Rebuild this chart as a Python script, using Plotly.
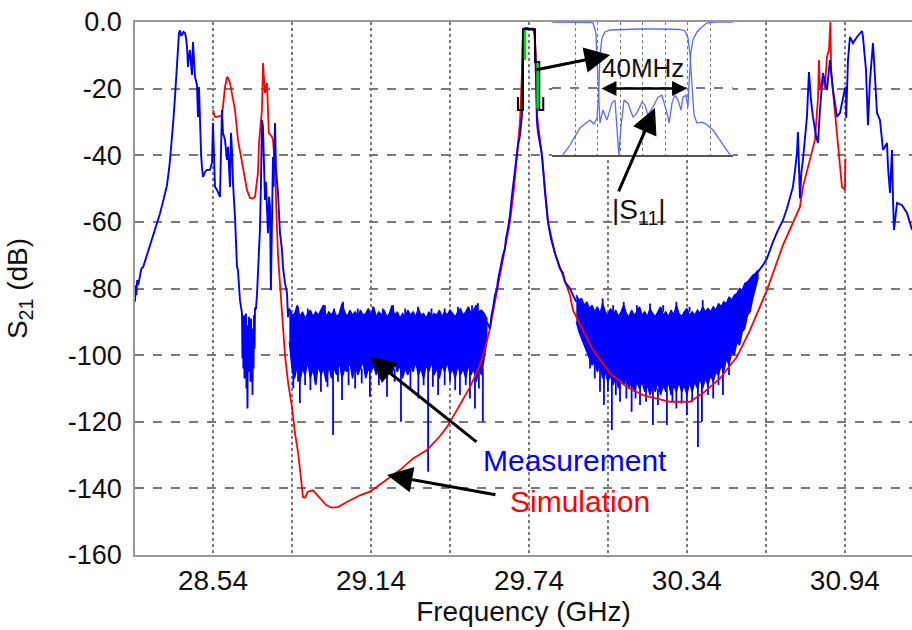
import plotly.graph_objects as go

# ---------------- data (GHz, dB) ----------------
meas_left = [
    (28.2438, -84), (28.2460, -79), (28.2490, -82), (28.2520, -77.5), (28.2560, -79), (28.2627, -76.5),
    (28.2680, -74), (28.2750, -73.5), (28.2893, -70), (28.3000, -67), (28.3121, -64), (28.3250, -61),
    (28.3387, -57.5), (28.3500, -54), (28.3653, -49), (28.3750, -43), (28.3843, -35.4), (28.3900, -29),
    (28.3957, -22.5), (28.4000, -16), (28.4033, -11.4), (28.4070, -6), (28.4109, -3.3), (28.4150, -2.5),
    (28.4190, -4), (28.4223, -3.9), (28.4280, -3), (28.4337, -3.3), (28.4380, -5), (28.4413, -7.5),
    (28.4451, -13.5), (28.4490, -10), (28.4526, -8.4), (28.4560, -12), (28.4602, -15.9), (28.4640, -6),
    (28.4680, -12), (28.4716, -16.5), (28.4792, -18.9), (28.4830, -28.5), (28.4868, -19.5), (28.4906, -33.3),
    (28.4950, -40), (28.4982, -43.5), (28.5020, -46.5), (28.5100, -45), (28.5172, -44.4), (28.5286, -44.4),
    (28.5362, -42.3), (28.5400, -30.3), (28.5430, -40), (28.5476, -49.5), (28.5552, -50.4), (28.5666, -52.5),
    (28.5700, -40), (28.5742, -26.4), (28.5780, -33.3), (28.5856, -35.4), (28.5932, -41.4), (28.5970, -37.5),
    (28.6046, -49.5), (28.6084, -33.3), (28.6122, -38.4), (28.6160, -48.3), (28.6236, -58.5), (28.6312, -73.5),
    (28.6349, -74.5), (28.6425, -83.5), (28.6501, -87.4),
    (28.6520, -101), (28.6539, -89), (28.6555, -104), (28.6577, -88), (28.6595, -107), (28.6615, -90),
    (28.6635, -103), (28.6653, -87.5), (28.6670, -110), (28.6691, -96), (28.6710, -116), (28.6729, -91),
    (28.6750, -105), (28.6767, -88.5), (28.6785, -100), (28.6805, -90), (28.6825, -108), (28.6843, -89),
    (28.6862, -104), (28.6881, -92), (28.6900, -112), (28.6919, -95), (28.6940, -104), (28.6957, -88),
    (28.6980, -98), (28.6995, -86),
    (28.7033, -86), (28.7071, -82), (28.7109, -76), (28.7147, -70), (28.7185, -62), (28.7223, -48),
    (28.7261, -29.4), (28.7299, -31.5), (28.7330, -45), (28.7375, -53.4), (28.7410, -48), (28.7451, -58.5),
    (28.7489, -63.4), (28.7530, -52.5), (28.7565, -55.5), (28.7600, -80.5), (28.7641, -63.4), (28.7679, -40.5),
    (28.7700, -49.5), (28.7755, -30.3), (28.7793, -44.4), (28.7831, -47.4), (28.7869, -51.3), (28.7945, -63.4),
    (28.8021, -68.4), (28.8059, -73.5), (28.8135, -78.4), (28.8211, -81.4), (28.8249, -88.6), (28.8300, -86),
]
meas_mid = [
    (29.5800, -90), (29.5920, -92), (29.5980, -88), (29.6034, -86), (29.6110, -82), (29.6186, -80),
    (29.6224, -77.5), (29.6300, -74), (29.6414, -70), (29.6490, -68), (29.6528, -65), (29.6604, -62),
    (29.6680, -58), (29.6756, -52), (29.6832, -47), (29.6908, -43), (29.6946, -40), (29.6984, -37),
    (29.7060, -34), (29.7098, -31), (29.7136, -28), (29.7160, -12), (29.7173, -4), (29.7211, -2),
    (29.7300, -1.8), (29.7401, -2), (29.7500, -2.2), (29.7591, -2.5), (29.7629, -4), (29.7650, -14),
    (29.7680, -26), (29.7705, -30), (29.7743, -33), (29.7819, -37), (29.7895, -40), (29.8009, -51),
    (29.8123, -60), (29.8237, -65), (29.8389, -69.4), (29.8579, -74), (29.8693, -75.4), (29.8769, -78),
    (29.8959, -80), (29.9073, -82), (29.9149, -83), (29.9200, -84),
]
meas_right = [
    (30.6100, -75), (30.6289, -73), (30.6441, -71), (30.6555, -68.4), (30.6669, -66), (30.6860, -62.5),
    (30.7049, -59.5), (30.7200, -56), (30.7428, -49.5), (30.7500, -45), (30.7580, -39.4), (30.7618, -33),
    (30.7650, -45), (30.7694, -53), (30.7750, -45), (30.7808, -41.4), (30.7960, -28.5), (30.8036, -15),
    (30.8112, -23.4), (30.8188, -28.5), (30.8300, -34), (30.8378, -36.3), (30.8454, -26.4), (30.8568, -15.3),
    (30.8720, -20.4), (30.8834, -11.4), (30.8948, -20.4), (30.9100, -28.5), (30.9214, -27.3), (30.9328, -22.5),
    (30.9404, -20), (30.9442, -19.5), (30.9450, -28.8), (30.9518, -11.4), (30.9594, -4.5), (30.9708, -6.3),
    (30.9860, -4.5), (31.0050, -2.7), (31.0088, -4.5), (31.0202, -14.4), (31.0278, -31), (31.0350, -18),
    (31.0430, -8.4), (31.0468, -6.3), (31.0544, -16.5), (31.0620, -27.3), (31.0734, -29.4), (31.0848, -38.4),
    (31.1000, -36.3), (31.1038, -43.5), (31.1114, -51.3), (31.1190, -38.4), (31.1228, -53.4), (31.1266, -62.4),
    (31.1380, -54.3), (31.1570, -55), (31.1760, -57.3), (31.1950, -62.4),
]

# noise floor of the measurement, sampled every 10 MHz: (upper, lower) in dB
noise_a_start = 28.83
noise_a = [
    (-86, -96), (-88, -104), (-87.5, -107), (-85, -103), (-88.5, -108), (-87, -104), (-89, -106), (-87.5, -102),
    (-86.5, -107), (-88.5, -104), (-87, -109), (-88, -103), (-86.5, -106), (-85, -104), (-88.5, -108), (-87, -103),
    (-88, -107), (-86.5, -104), (-88.5, -106), (-87.5, -102), (-84.5, -107), (-87, -104), (-88.5, -105), (-86.5, -102),
    (-88, -107), (-87, -103), (-88.5, -106), (-86.5, -104), (-88, -102), (-87.5, -107), (-86, -104), (-88, -105),
    (-85.5, -103), (-88.5, -106), (-87, -102), (-88, -105), (-86.5, -103), (-88.5, -107), (-87.5, -104), (-85, -106),
    (-88, -102), (-87, -105), (-89, -103), (-87.5, -107), (-88.5, -104), (-86.5, -106), (-88, -103), (-87, -105),
    (-88.5, -102), (-86, -106), (-88, -104), (-87.5, -107), (-89, -103), (-87, -105), (-88.5, -102), (-87.5, -106),
    (-88, -104), (-86.5, -107), (-88.5, -103), (-87, -105), (-88, -102), (-86.5, -106), (-87.5, -104), (-88.5, -107),
    (-87, -103), (-86, -106), (-88, -104), (-87, -107), (-85.5, -103), (-87.5, -106), (-86.5, -104), (-85, -108),
    (-87, -104), (-86.5, -106), (-87.5, -101), (-89, -96),
]
noise_b_start = 29.92
noise_b = [
    (-82, -90), (-83.5, -93), (-83, -95), (-85, -97), (-84, -99), (-86, -101), (-85, -103), (-87, -102),
    (-85.5, -105), (-87.5, -103), (-84.5, -107), (-87, -105), (-88, -108), (-86, -106), (-87.5, -109), (-86.5, -106),
    (-88.5, -110), (-87, -107), (-85, -109), (-87.5, -107), (-88.5, -110), (-86.5, -108), (-88, -111), (-87, -108),
    (-85.5, -110), (-88, -108), (-87, -111), (-88.5, -109), (-86, -112), (-87.5, -109), (-88.5, -111), (-87, -108),
    (-85.5, -112), (-88, -109), (-87, -111), (-88.5, -108), (-86.5, -112), (-88, -109), (-85, -111), (-87.5, -108),
    (-88.5, -111), (-87, -109), (-86, -112), (-88, -108), (-87, -111), (-88, -108), (-86.5, -110), (-87.5, -107),
    (-85.5, -110), (-87, -107), (-86, -109), (-87, -106), (-85.5, -108), (-86.5, -105), (-84.5, -106), (-85.5, -103),
    (-84, -105), (-84.5, -101), (-82.5, -103), (-83.5, -99), (-82, -100), (-81.5, -96), (-80, -97), (-80.5, -93),
    (-78.5, -92), (-78, -88), (-77, -87), (-76, -83), (-75.5, -80), (-74.5, -77),
]
# isolated noise spikes: (GHz, from dB, to dB)
spikes = [
    (28.845, -104, -110), (28.863, -103, -108), (28.870, -106, -114.4), (28.890, -104, -109),
    (28.910, -105, -110.5), (28.930, -104, -108.5), (28.950, -104, -111), (28.975, -104, -109.5),
    (28.996, -104, -124), (29.015, -104, -108), (29.030, -104, -113.5), (29.055, -104, -109),
    (29.080, -104, -110), (29.105, -104, -108.5), (29.136, -104, -112.5), (29.170, -104, -109),
    (29.201, -104, -112.5), (29.230, -104, -108), (29.254, -104, -120), (29.290, -104, -110),
    (29.320, -104, -113), (29.340, -104, -109), (29.357, -104, -135), (29.375, -104, -109.5),
    (29.395, -104, -112), (29.420, -104, -109), (29.440, -104, -108), (29.460, -104, -110.5),
    (29.478, -104, -112), (29.500, -104, -109), (29.516, -104, -113), (29.535, -104, -116),
    (29.550, -104, -110), (29.565, -104, -120),
    (28.863, -88, -85.5), (28.900, -88, -86), (28.965, -88, -85), (29.000, -88, -86), (29.034, -88, -84),
    (29.090, -88, -86), (29.148, -88, -85.5), (29.185, -88, -86), (29.224, -88, -85), (29.270, -88, -86),
    (29.319, -88, -85.5), (29.370, -88, -86), (29.420, -88, -86), (29.470, -88, -85.5), (29.524, -88, -85),
    (29.546, -88, -84.4),
    (29.972, -101, -104), (29.990, -102, -107), (30.010, -104, -111), (30.025, -105, -115),
    (30.040, -106, -111), (30.055, -107, -122.5), (30.070, -107, -112), (30.086, -108, -114),
    (30.110, -108, -113), (30.130, -108, -117), (30.145, -109, -113), (30.162, -109, -115),
    (30.185, -110, -114), (30.211, -110, -121), (30.230, -110, -115), (30.264, -110, -121),
    (30.285, -110, -114), (30.300, -110, -116), (30.320, -110, -114.5), (30.340, -110, -118),
    (30.360, -109, -114), (30.382, -108, -127.6), (30.397, -108, -120), (30.420, -107, -112),
    (30.440, -106, -113), (30.460, -105, -109), (30.477, -104, -112), (30.500, -102, -106),
    (30.020, -87, -83), (30.060, -87, -85), (30.100, -87, -84), (30.150, -87, -85), (30.200, -87, -84.5),
    (30.250, -87, -85), (30.300, -87, -84), (30.350, -87, -85.5), (30.400, -87, -83.5),
]

simulation = [
    (28.5400, -26.4), (28.5476, -28.5), (28.5552, -28.5), (28.5666, -28.2), (28.5742, -28), (28.5780, -25.5),
    (28.5856, -19.5), (28.5932, -16.5), (28.5970, -16.8), (28.6046, -18.3), (28.6122, -21.3), (28.6236, -26.4),
    (28.6349, -35.4), (28.6501, -42.3), (28.6691, -50.4), (28.6805, -52.8), (28.6900, -53), (28.6995, -52.5),
    (28.7109, -45.3), (28.7147, -36.3), (28.7261, -26.4), (28.7299, -12.3), (28.7330, -16), (28.7375, -21.3),
    (28.7451, -18.3), (28.7520, -33.3), (28.7641, -34.5), (28.7679, -35.4), (28.7755, -43.5), (28.7793, -55.5),
    (28.7831, -62), (28.7869, -70), (28.7945, -78), (28.8021, -88), (28.8135, -100), (28.8249, -108),
    (28.8400, -115.6), (28.8514, -123.4), (28.8628, -129), (28.8742, -137), (28.8818, -142.6), (28.8900, -142.8),
    (28.9000, -141), (28.9198, -140.6), (28.9350, -142), (28.9500, -143.5), (28.9700, -145), (28.9900, -145.8),
    (29.0147, -145.6), (29.0500, -144), (29.1000, -142), (29.1363, -141), (29.1800, -138.5), (29.2502, -134.5),
    (29.3000, -131), (29.3528, -128.5), (29.4000, -124.5), (29.4287, -121.6), (29.4700, -116), (29.5161, -109.6),
    (29.5541, -103), (29.5731, -98), (29.5920, -92), (29.6110, -84), (29.6300, -75), (29.6490, -68),
    (29.6680, -60), (29.6832, -50), (29.6946, -40), (29.7060, -30), (29.7136, -15), (29.7173, -4),
    (29.7211, -2), (29.7591, -2), (29.7667, -10), (29.7705, -28), (29.7895, -40), (29.8009, -51),
    (29.8123, -60), (29.8389, -69.5), (29.8693, -76), (29.8959, -82), (29.9073, -86.5), (29.9832, -98.5),
    (30.0478, -105.4), (30.1124, -109.6), (30.1732, -112), (30.2757, -114), (30.3517, -114), (30.4011, -111.4),
    (30.4657, -107), (30.5302, -100.5), (30.5796, -92.5), (30.6441, -80.5), (30.7049, -67), (30.7694, -55.5),
    (30.7808, -49.5), (30.8074, -41.4), (30.8264, -35.4), (30.8378, -23), (30.8416, -11.4), (30.8454, -20.4),
    (30.8568, -16.5), (30.8640, -20), (30.8720, -10.5), (30.8796, -8.4), (30.8850, 0), (30.8880, -15),
    (30.8948, -20.4), (30.9100, -33), (30.9214, -41.4), (30.9290, -49.5), (30.9404, -50.4), (30.9420, -41),
]

# passband marker drawn over the centre peak (GHz, dB)
marker_box = [
    (29.6984, -22.5), (29.6984, -26.4), (29.7173, -26.4), (29.7173, -2.2), (29.7629, -2.2), (29.7629, -12),
    (29.7793, -12), (29.7793, -26.4), (29.7945, -26.4), (29.7945, -22.5),
]
marker_green = [(29.7249, -2.6), (29.7249, -11.4), None, (29.7730, -12.5), (29.7730, -26.0)]

# inset: offset from centre (MHz), dB
inset_s21 = [
    (-35.6, -40), (-32.4, -37), (-28, -31.9), (-23.6, -29.5), (-21.8, -30.7), (-20.4, -28.9), (-19.6, -20.5),
    (-19.1, -9.9), (-18.2, -4.8), (-16.9, -3), (-14.7, -2.4), (-10.2, -2.25), (-1.3, -2.1), (7.6, -2.1),
    (16.4, -2.25), (18.7, -2.7), (20, -4.8), (20.9, -9.9), (21.8, -20.5), (22.7, -28), (24, -30.4),
    (26.2, -30.1), (28, -30.7), (31.1, -32.5), (34.2, -35.5), (38.7, -40),
]
inset_s11 = [
    (-40.4, 0), (-28, 0), (-22.2, -0.15), (-20.9, -3.3), (-20.4, -10.5), (-19.6, -20.5), (-19.1, -30.4),
    (-17.8, -26.5), (-16, -29.5), (-13.8, -24.4), (-12.4, -23.5), (-11.6, -31.6), (-10.7, -40), (-9.8, -31.6),
    (-8.4, -23.5), (-6.7, -24.4), (-4.4, -28.6), (-2.7, -27.4), (-0.4, -24.1), (0.9, -25), (2.2, -28),
    (4.4, -25.6), (6.7, -22.6), (8.4, -22), (10.7, -27.4), (11.6, -30.4), (12.9, -24.4), (14.2, -22),
    (15.6, -23.5), (16.9, -26.5), (17.8, -22.6), (19.1, -22), (20, -25.6), (20.4, -19.5), (21.3, -9.3),
    (22.2, -5.4), (24, -3), (26.2, -1.5), (28.4, -0.3), (32, 0), (40, 0),
]

x_ticks = [28.54, 29.14, 29.74, 30.34, 30.94]
x_minor = [28.84, 29.44, 30.04, 30.64]
y_ticks = [0, -20, -40, -60, -80, -100, -120, -140, -160]
y_ticktext = ["0.0", "-20", "-40", "-60", "-80", "-100", "-120", "-140", "-160"]

BLUE = "#0000ff"
RED = "#ff0000"
FONT = "Liberation Sans, Arial, sans-serif"


def unzip(pairs):
    xs, ys = [], []
    for p in pairs:
        if p is None:
            xs.append(None); ys.append(None)
        else:
            xs.append(p[0]); ys.append(p[1])
    return xs, ys


fig = go.Figure()

# noise floor bands
for start, band in ((noise_a_start, noise_a), (noise_b_start, noise_b)):
    f = [round(start + 0.01 * i, 4) for i in range(len(band))]
    hi = [b[0] for b in band]
    lo = [b[1] for b in band]
    fig.add_trace(go.Scatter(x=f + f[::-1], y=hi + lo[::-1], mode="lines", fill="toself",
                             fillcolor=BLUE, line=dict(color=BLUE, width=1.4), hoverinfo="skip"))

sx, sy = [], []
for f, a, b in spikes:
    sx += [f, f, None]
    sy += [a, b, None]
fig.add_trace(go.Scatter(x=sx, y=sy, mode="lines", line=dict(color=BLUE, width=1.8)))

# simulation
x, y = unzip(simulation)
fig.add_trace(go.Scatter(x=x, y=y, mode="lines", line=dict(color=RED, width=1.8)))

# measurement
x, y = unzip(meas_left + [None] + meas_mid + [None] + meas_right)
fig.add_trace(go.Scatter(x=x, y=y, mode="lines", line=dict(color=BLUE, width=1.9), connectgaps=False))

# passband marker
x, y = unzip(marker_box)
fig.add_trace(go.Scatter(x=x, y=y, mode="lines", line=dict(color="black", width=2)))
x, y = unzip(marker_green)
fig.add_trace(go.Scatter(x=x, y=y, mode="lines", line=dict(color="#00dd00", width=2.5)))

# inset
INSET = "#5a6cf5"
x, y = unzip(inset_s21)
fig.add_trace(go.Scatter(x=x, y=y, xaxis="x2", yaxis="y2", mode="lines", line=dict(color=INSET, width=1.3)))
x, y = unzip(inset_s11)
fig.add_trace(go.Scatter(x=x, y=y, xaxis="x2", yaxis="y2", mode="lines", line=dict(color=INSET, width=1.3)))

GRID = "#7a7a7a"
fig.update_layout(
    width=912, height=630,
    margin=dict(l=135, r=0, t=22, b=75),
    paper_bgcolor="white", plot_bgcolor="white",
    showlegend=False,
    font=dict(family=FONT, size=28, color="#111"),
    xaxis=dict(
        range=[28.2438, 31.195], tickvals=x_ticks, ticktext=[f"{v:.2f}" for v in x_ticks],
        showgrid=True, gridcolor=GRID, griddash="dot", gridwidth=1.5,
        minor=dict(tickvals=x_minor, showgrid=True, gridcolor=GRID, griddash="dot", gridwidth=1.5),
        showline=True, linecolor="#999", linewidth=1.5, mirror=True, ticks="", zeroline=False,
        tickfont=dict(size=28), title=dict(text="Frequency (GHz)", font=dict(size=28), standoff=6),
    ),
    yaxis=dict(
        range=[-160, 0], tickvals=y_ticks, ticktext=y_ticktext,
        showgrid=True, gridcolor=GRID, griddash="dash", gridwidth=1.5,
        showline=True, linecolor="#999", linewidth=1.5, ticks="", zeroline=False,
        tickfont=dict(size=27), ticklabelstandoff=6,
        title=dict(text="S<sub>21</sub> (dB)", font=dict(size=28), standoff=32),
    ),
    xaxis2=dict(domain=[0.5367, 0.7696], range=[-40.4, 40], anchor="y2",
                showgrid=True, gridcolor=GRID, griddash="dot", gridwidth=1.2, dtick=10, tick0=0,
                showticklabels=False, ticks="", zeroline=False,
                showline=True, linecolor="#555", linewidth=1.5),
    yaxis2=dict(domain=[0.7505, 1.0], range=[-40, 0], anchor="x2",
                showgrid=True, gridcolor=GRID, griddash="dash", gridwidth=1.5, dtick=20, tick0=0,
                showticklabels=False, ticks="", zeroline=False, showline=False),
    shapes=[dict(type="rect", xref="x2", yref="y2", x0=-40.4, x1=40, y0=-40, y1=0,
                 fillcolor="white", line=dict(width=0), layer="below")],
)

arrow = dict(showarrow=True, text="", arrowhead=2, arrowsize=1.7, arrowwidth=3, arrowcolor="black",
             xref="x", yref="y", axref="x", ayref="y")
fig.add_annotation(x=29.1363, y=-100.6, ax=29.5465, ay=-126.4, **arrow)
fig.add_annotation(x=29.2008, y=-136.0, ax=29.6186, ay=-142.0, **arrow)
fig.add_annotation(x=30.2187, y=-25.8, ax=30.0782, ay=-51.3, **arrow)
fig.add_annotation(x=30.0484, y=-9.9, ax=29.7629, ay=-14.4, **arrow)
fig.add_annotation(x=19.6, y=-20, ax=-19.1, ay=-20, xref="x2", yref="y2", axref="x2", ayref="y2",
                   showarrow=True, text="", arrowhead=2, arrowside="end+start", arrowsize=1.2,
                   arrowwidth=2.5, arrowcolor="black")
fig.add_annotation(x=0, y=-13.8, xref="x2", yref="y2", text="40MHz", showarrow=False,
                   font=dict(size=26, color="#111"))
fig.add_annotation(x=30.158, y=-57, text="|S<sub>11</sub>|", showarrow=False,
                   font=dict(size=28, color="#111"))
fig.add_annotation(x=29.9149, y=-131.5, text="Measurement", showarrow=False,
                   font=dict(size=30, color=BLUE))
fig.add_annotation(x=29.934, y=-143.8, text="Simulation", showarrow=False,
                   font=dict(size=30, color=RED))

fig.write_html("out.html")
